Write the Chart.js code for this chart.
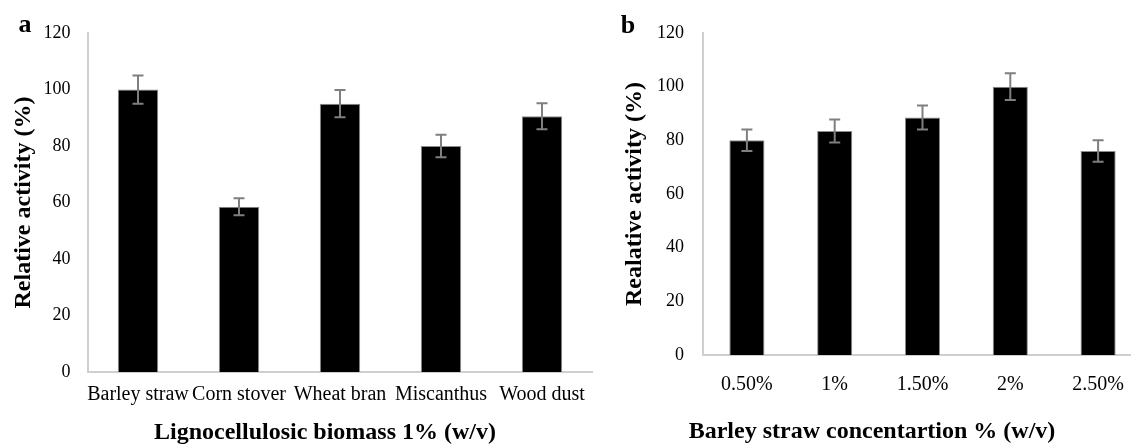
<!DOCTYPE html>
<html>
<head>
<meta charset="utf-8">
<script src="https://cdn.jsdelivr.net/npm/chart.js@4"></script>
<style>
  html, body { margin: 0; padding: 0; background: #fff; overflow: hidden; }
  #wrap { position: relative; width: 1131px; height: 444px; overflow: hidden; }
  canvas { position: absolute; top: 0; }
  #chartA { left: 0; }
  #chartB { left: 600px; }
</style>
</head>
<body>
<div id="wrap">
  <canvas id="chartA" width="600" height="444"></canvas>
  <canvas id="chartB" width="560" height="444"></canvas>
</div>
<script>
// panel a: lignocellulosic biomass
const biomassLabels = ['Barley straw', 'Corn stover', 'Wheat bran', 'Miscanthus', 'Wood dust'];
const biomassActivity = [100, 58.5, 95, 80, 90.5];
const biomassError = [5, 3, 4.8, 4, 4.6];

// panel b: barley straw concentration
const concLabels = ['0.50%', '1%', '1.50%', '2%', '2.50%'];
const concActivity = [80, 83.5, 88.5, 100, 76];
const concError = [4, 4.3, 4.5, 5, 4];

const yTicks = [0, 20, 40, 60, 80, 100, 120];

const SERIF = "'Liberation Serif', 'Times New Roman', serif";

// error bars + panel letter + x axis title
const extras = {
  id: 'extras',
  afterDatasetsDraw(chart, args, opts) {
    const ctx = chart.ctx;
    const meta = chart.getDatasetMeta(0);
    const y = chart.scales.y;
    const vals = chart.data.datasets[0].data;
    ctx.save();
    ctx.strokeStyle = '#7f7f7f';
    ctx.lineWidth = 2;
    meta.data.forEach((bar, i) => {
      const top = y.getPixelForValue(vals[i] + opts.errors[i]);
      const bot = y.getPixelForValue(vals[i] - opts.errors[i]);
      ctx.beginPath();
      ctx.moveTo(bar.x, top);
      ctx.lineTo(bar.x, bot);
      ctx.moveTo(bar.x - 5.5, top);
      ctx.lineTo(bar.x + 5.5, top);
      ctx.moveTo(bar.x - 5.5, bot);
      ctx.lineTo(bar.x + 5.5, bot);
      ctx.stroke();
    });
    ctx.restore();
  },
  afterDraw(chart, args, opts) {
    const ctx = chart.ctx;
    ctx.save();
    ctx.fillStyle = '#000';
    ctx.textAlign = 'center';
    ctx.textBaseline = 'alphabetic';
    ctx.font = 'bold 26px ' + SERIF;
    ctx.fillText(opts.letter, opts.letterX, opts.letterY);
    ctx.font = 'bold 24px ' + SERIF;
    ctx.fillText(opts.xTitle, opts.xTitleX, opts.xTitleY);
    ctx.restore();
  }
};

function makeChart(id, labels, values, errors, cfg) {
  return new Chart(document.getElementById(id), {
    type: 'bar',
    data: {
      labels: labels,
      datasets: [{
        data: values,
        backgroundColor: '#000000',
        borderColor: '#8c8c8c',
        borderWidth: 1,
        categoryPercentage: 1,
        barPercentage: 0.4
      }]
    },
    options: {
      responsive: false,
      animation: false,
      devicePixelRatio: 1,
      layout: { padding: { left: 0, right: cfg.padRight, top: 33, bottom: 0 } },
      plugins: {
        legend: { display: false },
        tooltip: { enabled: false },
        extras: {
          errors: errors,
          letter: cfg.letter, letterX: cfg.letterX, letterY: cfg.letterY,
          xTitle: cfg.xTitle, xTitleX: cfg.xTitleX, xTitleY: cfg.xTitleY
        }
      },
      scales: {
        x: {
          grid: { display: false, drawTicks: false },
          border: { display: true, color: '#cfcfcf', width: 2 },
          ticks: { color: '#000', font: { family: SERIF, size: 20 }, padding: cfg.xPad, maxRotation: 0, autoSkip: false },
          afterFit: s => { s.height = cfg.xHeight; }
        },
        y: {
          min: 0,
          max: 120,
          afterBuildTicks: s => { s.ticks = yTicks.map(v => ({ value: v })); },
          grid: { display: false, drawTicks: false },
          border: { display: true, color: '#cfcfcf', width: 2 },
          ticks: { color: '#000', font: { family: SERIF, size: 18 }, padding: cfg.yPad },
          title: {
            display: true,
            text: cfg.yTitle,
            color: '#000',
            font: { family: SERIF, size: 24, weight: 'bold' },
            padding: { top: cfg.yTitlePad, bottom: 0 }
          },
          afterFit: s => { s.width = cfg.yWidth; }
        }
      }
    },
    plugins: [extras]
  });
}

makeChart('chartA', biomassLabels, biomassActivity, biomassError, {
  padRight: 7.5, xHeight: 72, yWidth: 87.5, xPad: 11, yPad: 17, yTitlePad: 9,
  yTitle: 'Relative activity (%)',
  letter: 'a', letterX: 25, letterY: 32,
  xTitle: 'Lignocellulosic biomass 1% (w/v)', xTitleX: 325, xTitleY: 439
});

makeChart('chartB', concLabels, concActivity, concError, {
  padRight: 18, xHeight: 89, yWidth: 103, xPad: 18, yPad: 19, yTitlePad: 20,
  yTitle: 'Realative activity (%)',
  letter: 'b', letterX: 28, letterY: 33,
  xTitle: 'Barley straw concentartion % (w/v)', xTitleX: 272, xTitleY: 438
});
</script>
</body>
</html>
